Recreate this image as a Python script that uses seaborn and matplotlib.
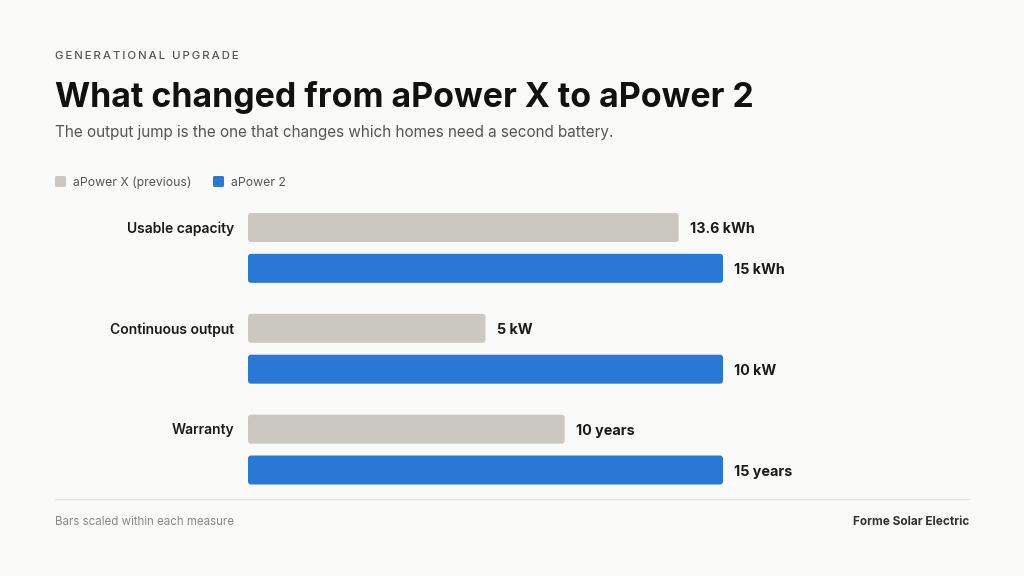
import matplotlib
matplotlib.use("Agg")
import matplotlib.pyplot as plt
import seaborn as sns
import pandas as pd
from matplotlib.patches import FancyBboxPatch
from matplotlib.lines import Line2D

measures = ["Usable capacity", "Continuous output", "Warranty"]
series = ["aPower X (previous)", "aPower 2"]
prev_values = [13.6, 5, 10]
new_values = [15, 10, 15]
prev_labels = ["13.6 kWh", "5 kW", "10 years"]
new_labels = ["15 kWh", "10 kW", "15 years"]

BG = "#fafaf9"
GRAY = "#cbc8c2"
BLUE = "#2a78d6"

rows = []
for i, m in enumerate(measures):
    mx = max(prev_values[i], new_values[i])
    rows.append({"measure": m, "series": series[0], "scaled": prev_values[i] / mx, "label": prev_labels[i]})
    rows.append({"measure": m, "series": series[1], "scaled": new_values[i] / mx, "label": new_labels[i]})
df = pd.DataFrame(rows)

sns.set_theme(style="white")
plt.rcParams["font.family"] = ["Inter", "DejaVu Sans"]

fig = plt.figure(figsize=(10.24, 5.76), dpi=100, facecolor=BG)
W, H = 1024, 576
ax_left, ax_right = 248, 960.5
ax_top, ax_bot = 197.5, 500
ax = fig.add_axes([ax_left / W, 1 - ax_bot / H, (ax_right - ax_left) / W, (ax_bot - ax_top) / H])
ax.set_facecolor(BG)

sns.barplot(data=df, y="measure", x="scaled", hue="series", order=measures,
            hue_order=series, palette=[GRAY, BLUE], orient="h", width=0.81,
            gap=0.29, ax=ax, legend=False, saturation=1)
ax.set_xlim(0, 1.5)
ax.set_ylim(2.5, -0.5)
for s in ax.spines.values():
    s.set_visible(False)
ax.set_xticks([])
ax.set_yticks([])
ax.set_xlabel("")
ax.set_ylabel("")

# rounded bars
xpp = 1.5 / (ax_right - ax_left)
ypp = 3.0 / (ax_bot - ax_top)
r = 3 * xpp
for p in list(ax.patches):
    x0, y0 = p.get_x(), p.get_y()
    w, h = p.get_width(), p.get_height()
    fc = p.get_facecolor()
    p.remove()
    fb = FancyBboxPatch((x0, y0), w, h, boxstyle=f"round,pad=0,rounding_size={r}",
                        mutation_aspect=ypp / xpp, facecolor=fc, edgecolor="none")
    ax.add_patch(fb)

# value and category labels
for i, m in enumerate(measures):
    for j, s in enumerate(series):
        row = df[(df.measure == m) & (df.series == s)].iloc[0]
        yc = i + (-0.2025 if j == 0 else 0.2025)
        ax.annotate(row["label"], (row["scaled"], yc), xytext=(8, -1.2), textcoords="offset points",
                    va="center", ha="left", fontsize=10.3, fontweight="bold", color="#1a1a1a")
    ax.annotate(m, (0, i - 0.2025), xytext=(-10, -0.8), textcoords="offset points",
                va="center", ha="right", fontsize=10, fontweight="semibold", color="#1a1a1a",
                annotation_clip=False)

# header texts
fig.text(55 / W, 1 - 56 / H, "\u2009".join("GENERATIONAL UPGRADE"),
         fontsize=8.2, fontweight="medium", color="#555555", va="center", ha="left")
fig.text(55 / W, 1 - 97 / H, "What changed from aPower X to aPower 2", fontsize=24.4,
         fontweight="bold", color="#111111", va="center", ha="left")
fig.text(55 / W, 1 - 133 / H, "The output jump is the one that changes which homes need a second battery.",
         fontsize=11, color="#555555", va="center", ha="left")

# legend
for lx, col, lab in [(55, GRAY, series[0]), (213, BLUE, series[1])]:
    fig.patches.append(FancyBboxPatch((lx / W, 1 - 187 / H), 11 / W, 11 / H,
                                      boxstyle="round,pad=0,rounding_size=0.002",
                                      transform=fig.transFigure, facecolor=col, edgecolor="none"))
    fig.text((lx + 18) / W, 1 - 182.5 / H, lab, fontsize=8.8, color="#555555", va="center", ha="left")

# separator and footer
fig.add_artist(Line2D([55 / W, 969 / W], [1 - 499 / H, 1 - 499 / H], transform=fig.transFigure,
                      color="#e4e2de", linewidth=0.8))
fig.text(55 / W, 1 - 522 / H, "Bars scaled within each measure", fontsize=8.3, color="#8a8a8a",
         va="center", ha="left")
fig.text(969 / W, 1 - 522 / H, "Forme Solar Electric", fontsize=8.5, fontweight="bold",
         color="#333333", va="center", ha="right")

fig.savefig("out.png", dpi=100, facecolor=BG)
